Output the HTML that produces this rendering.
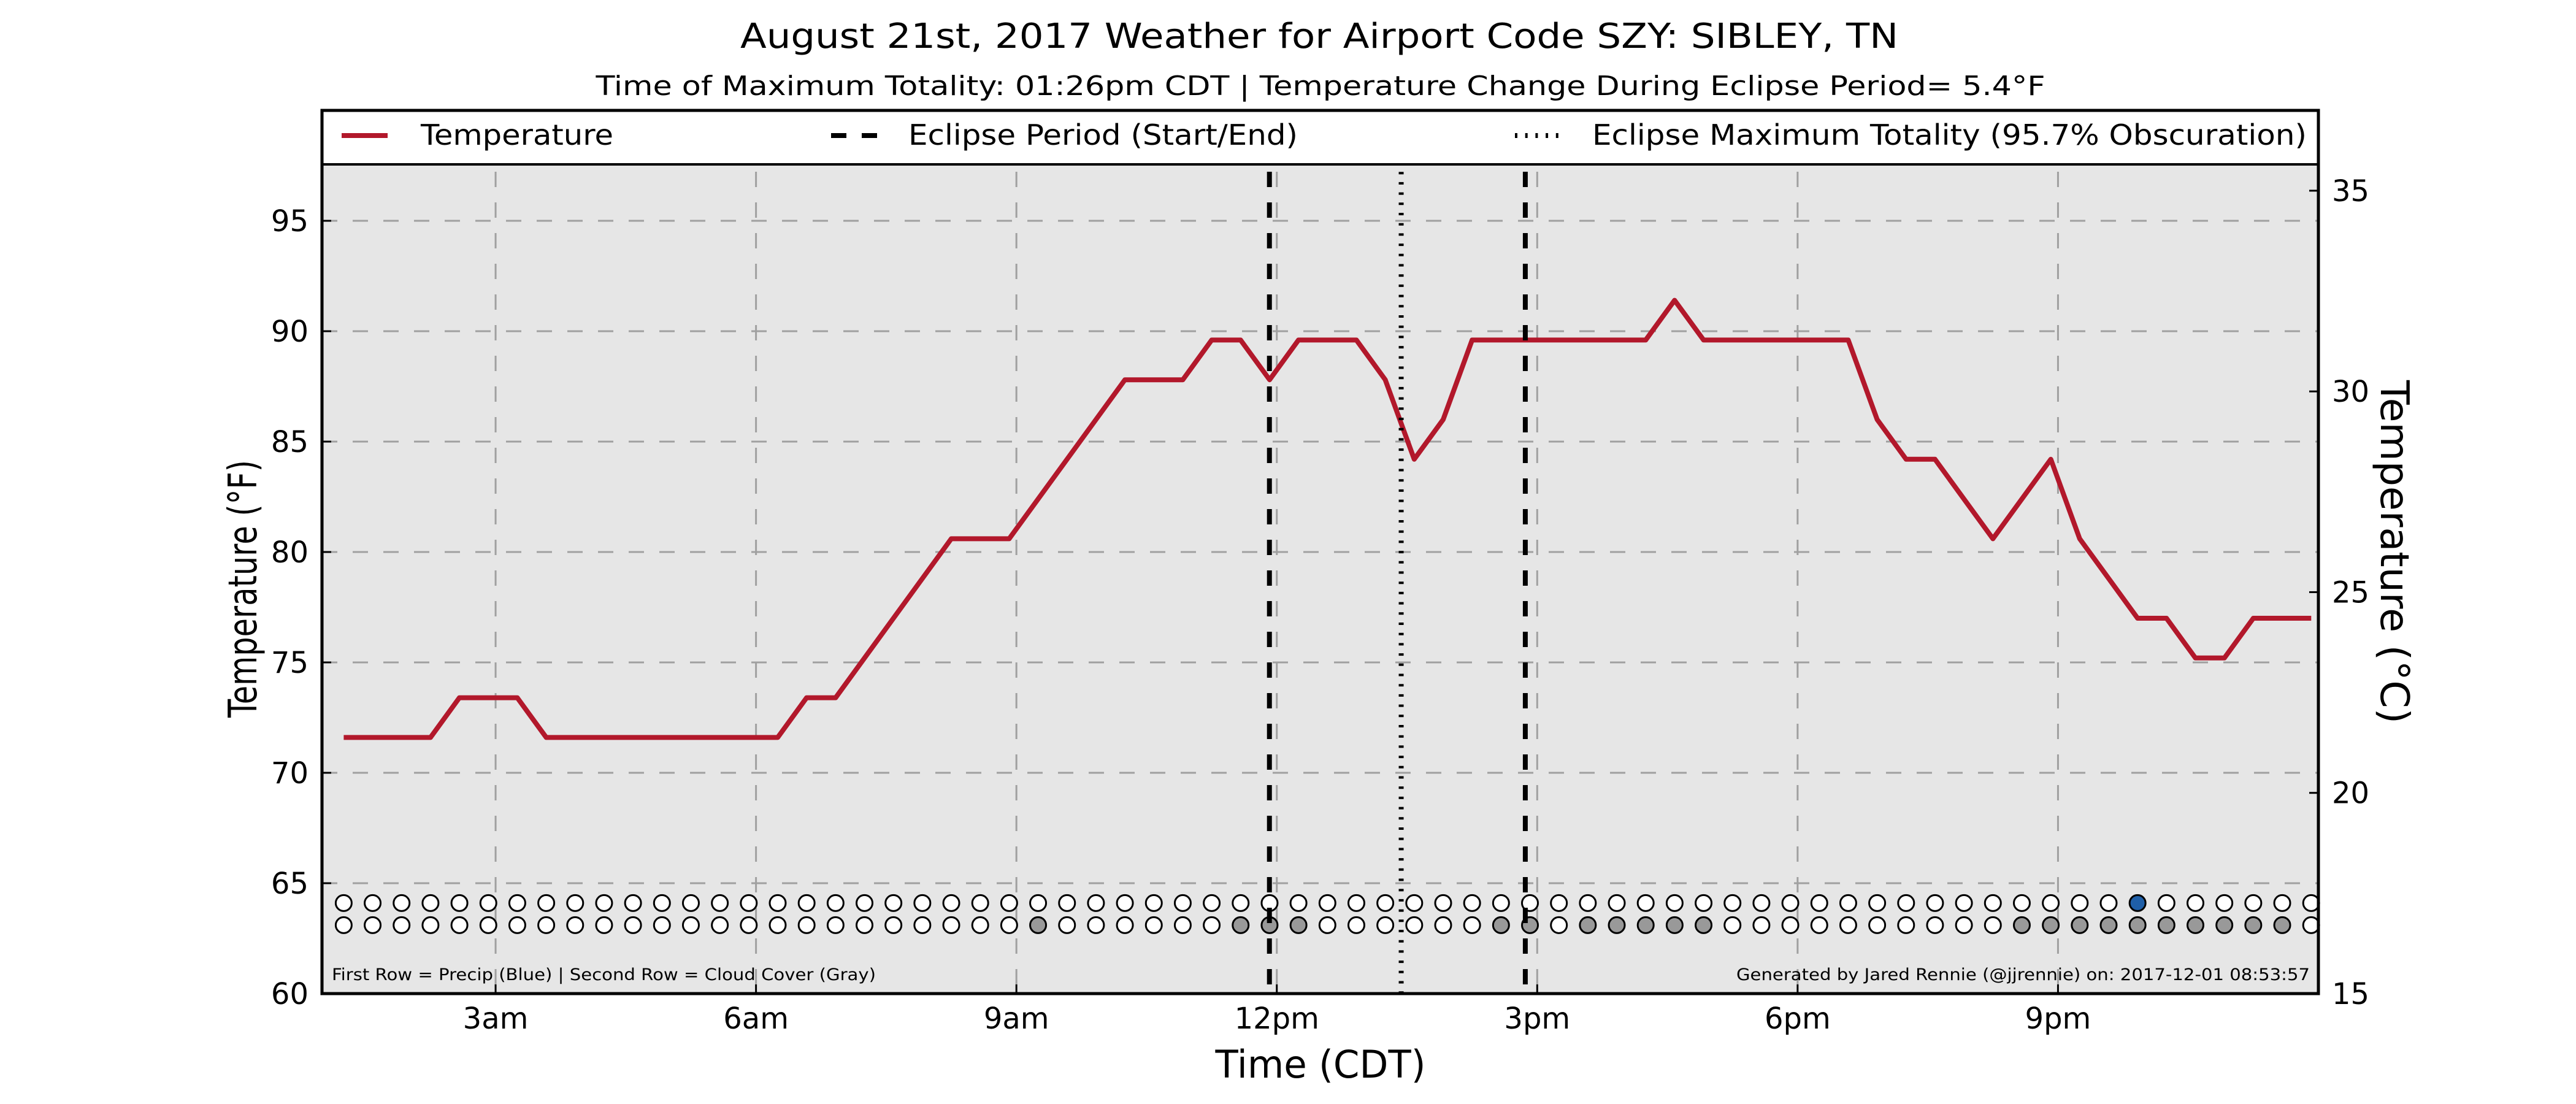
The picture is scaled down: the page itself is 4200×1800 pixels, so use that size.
<!DOCTYPE html>
<html><head><meta charset="utf-8"><style>
html,body{margin:0;padding:0;background:#fff}
svg{display:block}
text{font-family:"DejaVu Sans","Liberation Sans",sans-serif;fill:#000}
</style></head><body>
<svg id="chart" width="4200" height="1800" viewBox="0 0 4200 1800" xmlns="http://www.w3.org/2000/svg">
<text x="2151" y="78" font-size="56" text-anchor="middle" textLength="1888" lengthAdjust="spacingAndGlyphs">August 21st, 2017 Weather for Airport Code SZY: SIBLEY, TN</text>
<text x="2153" y="155" font-size="44" text-anchor="middle" textLength="2363" lengthAdjust="spacingAndGlyphs">Time of Maximum Totality: 01:26pm CDT | Temperature Change During Eclipse Period= 5.4°F</text>
<rect x="525" y="180" width="3255" height="1440" fill="#e6e6e6"/>
<g id="grid"></g>
<g id="marks"></g>
<g id="legend">
<rect x="525" y="180" width="3255" height="88" fill="#fff" stroke="#000" stroke-width="4"/>
<line x1="557" y1="221" x2="632" y2="221" stroke="#b2182b" stroke-width="8"/>
<text x="686" y="236" font-size="46" textLength="314" lengthAdjust="spacingAndGlyphs">Temperature</text>
<line x1="1355" y1="221" x2="1430" y2="221" stroke="#000" stroke-width="8" stroke-dasharray="25,25"/>
<text x="1481" y="236" font-size="46" textLength="635" lengthAdjust="spacingAndGlyphs">Eclipse Period (Start/End)</text>
<line x1="2470" y1="221" x2="2545" y2="221" stroke="#000" stroke-width="8" stroke-dasharray="4,12.7"/>
<text x="2596" y="236" font-size="46" textLength="1165" lengthAdjust="spacingAndGlyphs">Eclipse Maximum Totality (95.7% Obscuration)</text>
</g>
<rect x="525" y="180" width="3255" height="1440" fill="none" stroke="#000" stroke-width="5"/>
<g id="ticks"></g>
<text x="541" y="1598" font-size="27" textLength="887" lengthAdjust="spacingAndGlyphs">First Row = Precip (Blue) | Second Row = Cloud Cover (Gray)</text>
<text x="3766" y="1598" font-size="27" text-anchor="end" textLength="935" lengthAdjust="spacingAndGlyphs">Generated by Jared Rennie (@jjrennie) on: 2017-12-01 08:53:57</text>
<text x="2153" y="1757" font-size="62" text-anchor="middle" textLength="343" lengthAdjust="spacingAndGlyphs">Time (CDT)</text>
<text transform="translate(418,960) rotate(-90)" font-size="64" text-anchor="middle" textLength="420" lengthAdjust="spacingAndGlyphs">Temperature (°F)</text>
<text transform="translate(3882,900) rotate(90)" font-size="64" text-anchor="middle" textLength="560" lengthAdjust="spacingAndGlyphs">Temperature (°C)</text>
</svg>
<script>
const tempHours = [1.25,2.25,2.583,3.25,3.583,6.25,6.583,6.917,8.25,8.917,10.25,10.917,11.25,11.583,11.917,12.25,12.917,13.25,13.583,13.917,14.25,16.25,16.583,16.917,18.583,18.917,19.25,19.583,20.25,20.917,21.25,21.917,22.25,22.583,22.917,23.25,23.917];
const tempF = [71.6,71.6,73.4,73.4,71.6,71.6,73.4,73.4,80.6,80.6,87.8,87.8,89.6,89.6,87.8,89.6,89.6,87.8,84.2,86,89.6,89.6,91.4,89.6,89.6,86,84.2,84.2,80.6,84.2,80.6,77,77,75.2,75.2,77,77];
const obsStartHour = 1.25;
const obsCount = 69;
const cloudIdx = [24,31,32,33,40,41,43,44,45,46,47,58,59,60,61,62,63,64,65,66,67];
const precipIdx = [62];
const eclipseStart = 11.915;
const eclipseMax = 13.433;
const eclipseEnd = 14.863;
const xTickHours = [3,6,9,12,15,18,21];
const xTickLabels = ['3am','6am','9am','12pm','3pm','6pm','9pm'];
const yTicksF = [60,65,70,75,80,85,90,95];
const yTicksC = [15,20,25,30,35];

const L=525,R=3780,T=180,B=1620;
const xMin=1,xMax=24,fMin=60,fMax=100,cMin=15,cMax=37;
const X=h=>L+(h-xMin)/(xMax-xMin)*(R-L);
const YF=f=>B-(f-fMin)/(fMax-fMin)*(B-T);
const YC=c=>B-(c-cMin)/(cMax-cMin)*(B-T);
const NS='http://www.w3.org/2000/svg';
function mk(tag,attrs,parent){const e=document.createElementNS(NS,tag);for(const k in attrs)e.setAttribute(k,attrs[k]);parent.appendChild(e);return e;}
const grid=document.getElementById('grid'),marks=document.getElementById('marks'),ticks=document.getElementById('ticks');

yTicksF.forEach(v=>{
  const g=mk('line',{x1:L,x2:R,y1:YF(v),y2:YF(v),stroke:'#a0a0a0','stroke-width':3,'stroke-dasharray':'25,25'},grid);
  
  
  const t=mk('line',{x1:L,x2:L+15,y1:YF(v),y2:YF(v),stroke:'#000','stroke-width':3},ticks);
  
  
  const lb=mk('text',{x:L-22,y:YF(v)+17,'font-size':48,'text-anchor':'end'},ticks);
  lb.textContent=v;
  
  
});
yTicksC.forEach(v=>{
  const t=mk('line',{x1:R-15,x2:R,y1:YC(v),y2:YC(v),stroke:'#000','stroke-width':3},ticks);
  
  
  const lb=mk('text',{x:R+22,y:YC(v)+17,'font-size':48,'text-anchor':'start'},ticks);
  lb.textContent=v;
  
  
});
xTickHours.forEach((h,i)=>{
  const g=mk('line',{x1:X(h),x2:X(h),y1:T,y2:B,stroke:'#a0a0a0','stroke-width':3,'stroke-dasharray':'25,25'},grid);
  
  
  const t=mk('line',{x1:X(h),x2:X(h),y1:B-15,y2:B,stroke:'#000','stroke-width':3},ticks);
  
  
  const lb=mk('text',{x:X(h),y:B+57,'font-size':48,'text-anchor':'middle'},ticks);
  lb.textContent=xTickLabels[i];
  
  
});

const pts=tempHours.map((h,i)=>X(h).toFixed(1)+','+YF(tempF[i]).toFixed(1)).join(' ');
const line=mk('polyline',{points:pts,fill:'none',stroke:'#b2182b','stroke-width':8,'stroke-linejoin':'round'},marks);



for(let i=0;i<obsCount;i++){
  const h=obsStartHour+i/3;
  const p=mk('circle',{cx:X(h),cy:YF(64.1),r:13,fill:precipIdx.includes(i)?'#1f5fa8':'#fff',stroke:'#000','stroke-width':3},marks);
  
  
  const c=mk('circle',{cx:X(h),cy:YF(63.1),r:13,fill:cloudIdx.includes(i)?'#999':'#fff',stroke:'#000','stroke-width':3},marks);
  
  
}

[[eclipseStart,'eclipse-start-line','25,25'],[eclipseMax,'eclipse-max-line','4,12.7'],[eclipseEnd,'eclipse-end-line','25,25']].forEach(d=>{
  const e=mk('line',{x1:X(d[0]),x2:X(d[0]),y1:T,y2:B,stroke:'#000','stroke-width':8,'stroke-dasharray':d[2]},marks);
  
  
});
</script>
</body></html>
